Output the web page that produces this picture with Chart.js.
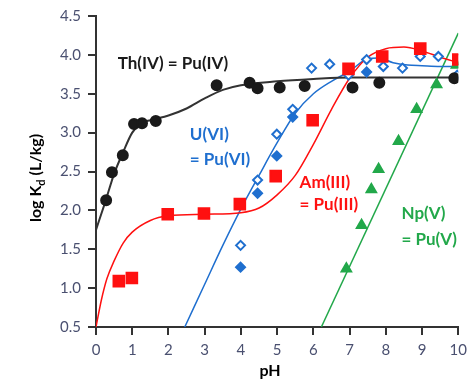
<!DOCTYPE html>
<html>
<head>
<meta charset="utf-8">
<script src="https://cdn.jsdelivr.net/npm/chart.js@4.4.0/dist/chart.umd.min.js"></script>
<style>
  body { margin: 0; background: #fff; }
  canvas { display: block; }
</style>
</head>
<body>
<canvas id="kd-chart" width="473" height="380"></canvas>
<script>
const thPH = [0.28, 0.44, 0.74, 1.05, 1.27, 1.65, 3.33, 4.24, 4.46, 5.07, 5.76, 7.08, 7.82, 9.89];
const thKd = [2.13, 2.49, 2.71, 3.11, 3.12, 3.15, 3.61, 3.64, 3.57, 3.58, 3.60, 3.58, 3.64, 3.70];

const amPH = [0.63, 0.99, 1.98, 2.98, 3.97, 4.96, 5.98, 6.97, 7.90, 8.95, 10.0];
const amKd = [1.09, 1.13, 1.95, 1.96, 2.08, 2.44, 3.16, 3.82, 3.98, 4.08, 3.94];

const uOpenPH = [3.99, 4.46, 4.99, 5.43, 5.95, 6.45, 6.97, 7.47, 7.93, 8.46, 8.95, 9.45, 9.97];
const uOpenKd = [1.55, 2.39, 2.98, 3.30, 3.83, 3.88, 3.74, 3.94, 3.85, 3.83, 3.98, 3.98, 3.74];

const uFillPH = [3.99, 4.46, 4.99, 5.43, 6.97, 7.47];
const uFillKd = [1.27, 2.22, 2.70, 3.20, 3.80, 3.78];

const npPH = [6.91, 7.33, 7.60, 7.80, 8.35, 8.85, 9.40, 9.95];
const npKd = [1.25, 1.81, 2.27, 2.53, 2.89, 3.30, 3.62, 3.87];

// model curves
const thCurvePH = [0, 0.25, 0.5, 0.75, 1.0, 1.25, 1.5, 2.0, 2.5, 3.0, 3.5, 4.0, 5.0, 6.0, 7.0, 8.0, 9.0, 10.0];
const thCurveKd = [1.75, 2.10, 2.47, 2.75, 3.00, 3.12, 3.16, 3.22, 3.31, 3.44, 3.55, 3.61, 3.66, 3.69, 3.71, 3.71, 3.71, 3.71];

const amCurvePH = [0, 0.15, 0.3, 0.5, 0.75, 1.0, 1.5, 2, 3, 4, 4.5, 5, 5.5, 6, 6.5, 7, 7.5, 8, 8.5, 9, 9.5, 10];
const amCurveKd = [0.5, 0.85, 1.12, 1.35, 1.58, 1.72, 1.87, 1.93, 1.95, 1.97, 2.03, 2.20, 2.45, 2.85, 3.30, 3.70, 3.97, 4.08, 4.10, 4.05, 3.97, 3.90];

const uCurvePH = [2.45, 3, 3.5, 4, 4.5, 5, 5.5, 6, 6.5, 7, 7.5, 7.8, 8.2, 8.6, 9, 9.5, 10];
const uCurveKd = [0.5, 1.05, 1.55, 2.02, 2.45, 2.87, 3.25, 3.50, 3.66, 3.79, 3.95, 3.96, 3.90, 3.87, 3.86, 3.85, 3.85];

const npCurvePH = [6.22, 10];
const npCurveKd = [0.5, 4.28];

const xTicks = [0, 1, 2, 3, 4, 5, 6, 7, 8, 9, 10];
const yTicks = [0.5, 1.0, 1.5, 2.0, 2.5, 3.0, 3.5, 4.0, 4.5];

const BLACK = '#1a1a1a';
const RED = '#ff1010';
const BLUE = '#1f6fcf';
const GREEN = '#22a84a';

function pairs(xs, ys) {
    return xs.map((x, i) => ({x: x, y: ys[i]}));
}

function curve(xs, ys, color, width) {
    return {
        data: pairs(xs, ys),
        showLine: true,
        borderColor: color,
        borderWidth: width,
        pointRadius: 0,
        cubicInterpolationMode: 'monotone',
        order: 2
    };
}

function markers(xs, ys, style, fill, edge, r) {
    return {
        data: pairs(xs, ys),
        showLine: false,
        pointStyle: style,
        pointRadius: r,
        backgroundColor: fill,
        borderColor: edge,
        pointBorderWidth: 2,
        order: 1
    };
}

// text labels on the plot + axis titles
const labelPlugin = {
    id: 'labels',
    afterDraw(chart) {
        const ctx = chart.ctx;
        const xs = chart.scales.x, ys = chart.scales.y;
        ctx.save();
        ctx.textBaseline = 'middle';
        ctx.textAlign = 'left';
        ctx.font = 'bold 17px Lato';
        const notes = [
            ['Th(IV) = Pu(IV)', 0.6, 3.89, BLACK],
            ['U(VI)', 2.59, 2.97, BLUE],
            ['= Pu(VI)', 2.59, 2.65, BLUE],
            ['Am(III)', 5.62, 2.36, RED],
            ['= Pu(III)', 5.62, 2.07, RED],
            ['Np(V)', 8.43, 1.96, GREEN],
            ['= Pu(V)', 8.43, 1.63, GREEN]
        ];
        notes.forEach(n => {
            ctx.fillStyle = n[3];
            ctx.fillText(n[0], xs.getPixelForValue(n[1]), ys.getPixelForValue(n[2]));
        });

        // x title
        ctx.fillStyle = '#000';
        ctx.textAlign = 'center';
        ctx.font = 'bold 16px Lato';
        ctx.fillText('pH', 270, 371);

        // y title with subscript d
        ctx.translate(36, 178);
        ctx.rotate(-Math.PI / 2);
        const big = 'bold 16px Lato', small = 'bold 11px Lato';
        ctx.font = big;
        const w1 = ctx.measureText('log K').width;
        const w3 = ctx.measureText(' (L/kg)').width;
        ctx.font = small;
        const w2 = ctx.measureText('d').width;
        let x0 = -(w1 + w2 + w3) / 2;
        ctx.textAlign = 'left';
        ctx.font = big;
        ctx.fillText('log K', x0, 0);
        ctx.font = small;
        ctx.fillText('d', x0 + w1, 5);
        ctx.font = big;
        ctx.fillText(' (L/kg)', x0 + w1 + w2, 0);
        ctx.restore();
    }
};

const config = {
    type: 'scatter',
    data: {
        datasets: [
            markers(thPH, thKd, 'circle', BLACK, BLACK, 5),
            markers(amPH, amKd, 'rect', RED, RED, 7.5),
            markers(uOpenPH, uOpenKd, 'rectRot', '#fff', BLUE, 4.5),
            markers(uFillPH, uFillKd, 'rectRot', BLUE, BLUE, 4.5),
            markers(npPH, npKd, 'triangle', GREEN, GREEN, 5.5),
            curve(thCurvePH, thCurveKd, '#333', 2),
            curve(amCurvePH, amCurveKd, RED, 1.5),
            curve(uCurvePH, uCurveKd, BLUE, 1.5),
            curve(npCurvePH, npCurveKd, GREEN, 1.5)
        ]
    },
    options: {
        responsive: false,
        devicePixelRatio: 1,
        animation: false,
        layout: { padding: { top: 16, right: 14, left: 0, bottom: 0 } },
        plugins: {
            legend: { display: false },
            tooltip: { enabled: false }
        },
        scales: {
            x: {
                type: 'linear',
                min: 0,
                max: 10,
                afterFit(scale) { scale.height = 53; },
                afterBuildTicks(scale) { scale.ticks = xTicks.map(v => ({value: v})); },
                border: { display: true, color: '#333', width: 2 },
                grid: { drawOnChartArea: false, drawTicks: true, tickLength: 8, color: '#333', lineWidth: 2 },
                ticks: { color: '#4a5070', font: { family: 'Lato', size: 15 }, padding: 6, maxRotation: 0 }
            },
            y: {
                type: 'linear',
                min: 0.5,
                max: 4.5,
                afterFit(scale) { scale.width = 96; },
                afterBuildTicks(scale) { scale.ticks = yTicks.map(v => ({value: v})); },
                border: { display: true, color: '#333', width: 2 },
                grid: { drawOnChartArea: false, drawTicks: true, tickLength: 8, color: '#333', lineWidth: 2 },
                ticks: {
                    color: '#4a5070',
                    font: { family: 'Lato', size: 15 },
                    padding: 7,
                    callback: v => v.toFixed(1)
                }
            }
        }
    },
    plugins: [labelPlugin]
};

const kdChart = new Chart(document.getElementById('kd-chart'), config);
</script>
</body>
</html>
